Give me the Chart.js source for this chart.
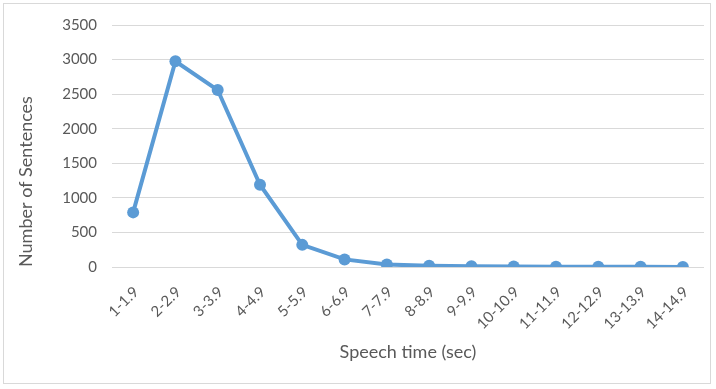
<!DOCTYPE html>
<html>
<head>
<meta charset="utf-8">
<script src="https://cdn.jsdelivr.net/npm/chart.js@4/dist/chart.umd.min.js"></script>
<style>
  html, body { margin: 0; padding: 0; background: #fff; }
  #wrap { position: relative; width: 716px; height: 389px; }
  #frame { position: absolute; left: 3px; top: 3px; width: 708px; height: 381px; border: 1px solid #d9d9d9; box-sizing: border-box; pointer-events: none; }
</style>
</head>
<body>
<div id="wrap">
  <canvas id="myChart" width="716" height="389"></canvas>
  <div id="frame"></div>
</div>
<script>
const labels = ['1-1.9', '2-2.9', '3-3.9', '4-4.9', '5-5.9', '6-6.9', '7-7.9', '8-8.9', '9-9.9', '10-10.9', '11-11.9', '12-12.9', '13-13.9', '14-14.9'];
const sentences = [790, 2975, 2560, 1190, 320, 110, 35, 18, 10, 6, 3, 2, 2, 1];
const yTicks = [0, 500, 1000, 1500, 2000, 2500, 3000, 3500];

const textColor = '#595959';
const fontFamily = 'Lato, "Open Sans", sans-serif';

const ctx = document.getElementById('myChart').getContext('2d');

const myChart = new Chart(ctx, {
    type: 'line',
    data: {
        labels: labels,
        datasets: [{
            label: 'Number of Sentences',
            data: sentences,
            borderColor: '#5b9bd5',
            backgroundColor: '#5b9bd5',
            borderWidth: 4,
            pointRadius: 6,
            pointBorderWidth: 0,
            tension: 0
        }]
    },
    options: {
        responsive: false,
        animation: false,
        layout: { padding: { left: 0, right: 12, top: 25, bottom: 0 } },
        plugins: {
            legend: { display: false },
            tooltip: { enabled: false }
        },
        scales: {
            x: {
                offset: true,
                afterFit: (axis) => { axis.height = 122; },
                grid: { display: false },
                border: { display: false },
                ticks: {
                    color: textColor,
                    font: { family: fontFamily, size: 15 },
                    minRotation: 45,
                    maxRotation: 45,
                    padding: 8,
                    labelOffset: 3
                },
                title: {
                    display: true,
                    text: 'Speech time (sec)',
                    color: textColor,
                    font: { family: fontFamily, size: 18 },
                    padding: { top: 0, bottom: 26 }
                }
            },
            y: {
                min: 0,
                max: 3500,
                afterFit: (axis) => { axis.width = 112; },
                afterBuildTicks: (axis) => { axis.ticks = yTicks.map(v => ({ value: v })); },
                grid: { color: '#d9d9d9', lineWidth: 1, drawTicks: false },
                border: { display: false },
                ticks: {
                    color: textColor,
                    font: { family: fontFamily, size: 15 },
                    padding: 15,
                    callback: (v) => String(v)
                },
                title: {
                    display: true,
                    text: 'Number of Sentences',
                    color: textColor,
                    align: 'start',
                    font: { family: fontFamily, size: 18 },
                    padding: { top: 15, bottom: 0 }
                }
            }
        }
    }
});
</script>
</body>
</html>
